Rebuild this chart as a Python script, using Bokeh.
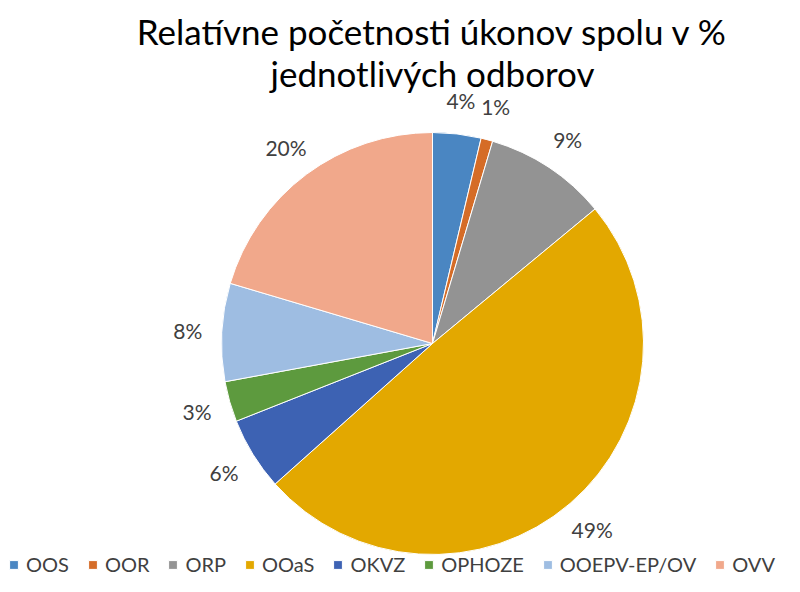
import math
from bokeh.plotting import figure
from bokeh.models import Range1d, ColumnDataSource, Legend, LegendItem
from bokeh.core.properties import value
from bokeh.embed import file_html
from bokeh.resources import INLINE

# ---- data ----
categories = ["OOS", "OOR", "ORP", "OOaS", "OKVZ", "OPHOZE", "OOEPV-EP/OV", "OVV"]
shares = [3.7, 0.9, 9.4, 49.4, 5.6, 3.1, 7.5, 20.4]
colors = ["#4A86C2", "#D56C27", "#939393", "#E3A800", "#3D62B3", "#5D9A3E", "#9EBDE2", "#F1A88B"]
title_lines = ["Relatívne početnosti úkonov spolu v %", "jednotlivých odborov"]

# ---- layout (picture pixel coords) ----
W, H = 784, 576
cx, cy, r = 432, 343, 211
label_r = 245
font = "Lato"

p = figure(width=W, height=H, output_backend="svg", toolbar_location=None,
           x_range=Range1d(0, W), y_range=Range1d(-H, 0),
           min_border=0, outline_line_color=None)
p.axis.visible = False
p.grid.visible = False
p.background_fill_color = "white"

total = sum(shares)
starts, ends, mids = [], [], []
cum = 0.0
for s in shares:
    a0 = cum / total
    cum += s
    a1 = cum / total
    # clockwise from 12 o'clock
    starts.append(math.pi / 2 - 2 * math.pi * a1)
    ends.append(math.pi / 2 - 2 * math.pi * a0)
    mids.append(math.pi / 2 - 2 * math.pi * (a0 + a1) / 2)

src = ColumnDataSource(dict(cat=categories, val=shares, color=colors,
                            start=starts, end=ends))

renderer = p.wedge(x=cx, y=-cy, radius=r, start_angle="start", end_angle="end",
                   direction="anticlock", fill_color="color", line_color="white",
                   line_width=1, source=src)

# data labels
lx = [cx + label_r * math.cos(m) for m in mids]
ly = [-cy + label_r * math.sin(m) for m in mids]
ltxt = ["%d%%" % round(v / total * 100) for v in shares]
p.text(x=lx, y=ly, text=ltxt, text_font=value(font), text_font_size="21px",
       text_color="#404040", text_align="center", text_baseline="middle")

# title
p.text(x=[cx, cx], y=[-30, -72], text=title_lines, text_font=value(font),
       text_font_size="35px", text_color="#000000", text_align="center",
       text_baseline="middle")

# legend
items = [LegendItem(label=c, renderers=[renderer], index=i) for i, c in enumerate(categories)]
legend = Legend(items=items, orientation="horizontal", location=(8, 0),
                glyph_width=11, glyph_height=11, label_standoff=7, spacing=18,
                padding=0, margin=0, border_line_color=None,
                background_fill_alpha=0, label_text_font=font,
                label_text_font_size="20px", label_text_color="#404040",
                label_height=20)
p.add_layout(legend, "center")

open("out.html", "w").write(file_html(p, INLINE))
